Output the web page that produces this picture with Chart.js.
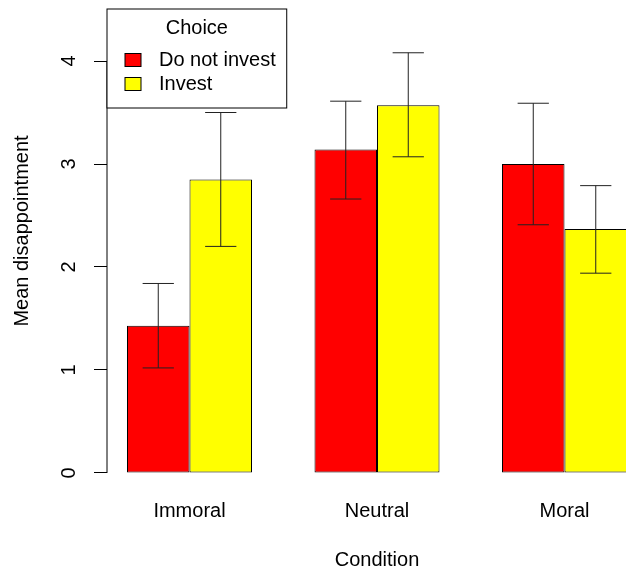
<!DOCTYPE html>
<html>
<head>
<meta charset="utf-8">
<script src="https://cdn.jsdelivr.net/npm/chart.js@4.4.1/dist/chart.umd.min.js"></script>
<style>
  html, body { margin: 0; padding: 0; overflow: hidden; background: #fff; width: 626px; height: 574px; }
  #chart { position: absolute; left: 0; top: -60px; }
</style>
</head>
<body>
<canvas id="chart" width="667" height="634"></canvas>
<script>
const conditions = ["Immoral", "Neutral", "Moral"];
const choices = ["Do not invest", "Invest"];
const colors = ["#ff0000", "#ffff00"];

const notInvestMean = [1.43, 3.14, 3.00];
const notInvestLow = [1.02, 2.66, 2.41];
const notInvestHigh = [1.84, 3.61, 3.59];

const investMean = [2.85, 3.57, 2.37];
const investLow = [2.20, 3.07, 1.94];
const investHigh = [3.50, 4.08, 2.79];

const yTicks = [0, 1, 2, 3, 4];

// R barplot positions: groups centred at 2, 5, 8
const groupX = conditions.map((c, i) => 2 + 3 * i);

const FONT = "'Liberation Sans', Arial, sans-serif";

const canvas = document.getElementById("chart");
const ctx = canvas.getContext("2d");

function toPoints(values) {
    return values.map((v, i) => ({ x: groupX[i], y: v }));
}

const errLow = [notInvestLow, investLow];
const errHigh = [notInvestHigh, investHigh];

// whiskers drawn over the bars
const errorBars = {
    id: "errorBars",
    afterDatasetsDraw(chart) {
        const y = chart.scales.y;
        const c = chart.ctx;
        c.save();
        c.strokeStyle = "#222";
        c.lineWidth = 1;
        chart.data.datasets.forEach((ds, d) => {
            chart.getDatasetMeta(d).data.forEach((bar, i) => {
                const lo = y.getPixelForValue(errLow[d][i]);
                const hi = y.getPixelForValue(errHigh[d][i]);
                const cap = bar.width / 4;
                c.beginPath();
                c.moveTo(bar.x, lo);
                c.lineTo(bar.x, hi);
                c.moveTo(bar.x - cap, hi);
                c.lineTo(bar.x + cap, hi);
                c.moveTo(bar.x - cap, lo);
                c.lineTo(bar.x + cap, lo);
                c.stroke();
            });
        });
        c.restore();
    }
};

// y axis line only from first to last tick, like R
const axisLine = {
    id: "axisLine",
    afterDraw(chart) {
        const y = chart.scales.y;
        const x0 = chart.chartArea.left;
        const c = chart.ctx;
        c.save();
        c.strokeStyle = "#000";
        c.lineWidth = 1;
        c.beginPath();
        c.moveTo(x0, y.getPixelForValue(yTicks[0]));
        c.lineTo(x0, y.getPixelForValue(yTicks[yTicks.length - 1]));
        c.stroke();
        c.restore();
    }
};

// boxed legend with title, top-left of the plot
const boxLegend = {
    id: "boxLegend",
    afterDraw(chart) {
        const c = chart.ctx;
        const left = chart.chartArea.left;
        const top = chart.scales.y.getPixelForValue(4.505);
        c.save();
        c.font = "20px " + FONT;
        const textX = 52;
        const w = textX + Math.max(...choices.map(t => c.measureText(t).width)) + 11;
        const h = 99;
        c.fillStyle = "#fff";
        c.fillRect(left, top, w, h);
        c.strokeStyle = "#000";
        c.lineWidth = 1;
        c.strokeRect(left, top, w, h);
        c.fillStyle = "#000";
        c.textAlign = "center";
        c.textBaseline = "middle";
        c.fillText("Choice", left + w / 2, top + 19);
        c.textAlign = "left";
        choices.forEach((t, i) => {
            const cy = top + 51 + i * 24;
            c.fillStyle = colors[i];
            c.fillRect(left + 18, cy - 6.5, 16, 13);
            c.strokeStyle = "#000";
            c.strokeRect(left + 18, cy - 6.5, 16, 13);
            c.fillStyle = "#000";
            c.fillText(t, left + textX, cy);
        });
        c.restore();
    }
};

new Chart(ctx, {
    type: "bar",
    data: {
        datasets: [
            {
                label: choices[0],
                data: toPoints(notInvestMean),
                backgroundColor: colors[0],
                borderColor: "#000",
                borderWidth: 1,
                borderSkipped: false
            },
            {
                label: choices[1],
                data: toPoints(investMean),
                backgroundColor: colors[1],
                borderColor: "#000",
                borderWidth: 1,
                borderSkipped: false
            }
        ]
    },
    options: {
        responsive: false,
        animation: false,
        categoryPercentage: 2 / 3,
        barPercentage: 1,
        layout: { padding: { top: 0, right: 20, left: 0, bottom: 0 } },
        plugins: {
            legend: { display: false },
            tooltip: { enabled: false }
        },
        scales: {
            x: {
                type: "linear",
                offset: false,
                min: 0.68,
                max: 9.32,
                afterBuildTicks: s => { s.ticks = groupX.map(v => ({ value: v })); },
                afterFit: s => { s.height = 83; },
                grid: { display: false, drawTicks: false, tickLength: 0, offset: false },
                border: { display: false },
                ticks: {
                    padding: 8,
                    color: "#000",
                    font: { family: FONT, size: 20 },
                    maxRotation: 0,
                    autoSkip: false,
                    callback: (v) => conditions[groupX.indexOf(v)]
                },
                title: {
                    display: true,
                    text: "Condition",
                    color: "#000",
                    font: { family: FONT, size: 20 },
                    padding: { top: 0, bottom: 1.5 }
                }
            },
            y: {
                min: -0.175,
                max: 4.874,
                afterBuildTicks: s => { s.ticks = yTicks.map(v => ({ value: v })); },
                afterFit: s => { s.width = 107; },
                grid: {
                    display: true,
                    drawOnChartArea: false,
                    drawTicks: true,
                    tickLength: 13,
                    color: "#000"
                },
                border: { display: false },
                ticks: {
                    padding: 19,
                    color: "#000",
                    crossAlign: "center",
                    minRotation: 90,
                    maxRotation: 90,
                    font: { family: FONT, size: 20 },
                    callback: v => String(v)
                },
                title: {
                    display: true,
                    text: "Mean disappointment",
                    color: "#000",
                    font: { family: FONT, size: 20 },
                    padding: { top: 10, bottom: 0 }
                }
            }
        }
    },
    plugins: [errorBars, axisLine, boxLegend]
});
</script>
</body>
</html>
